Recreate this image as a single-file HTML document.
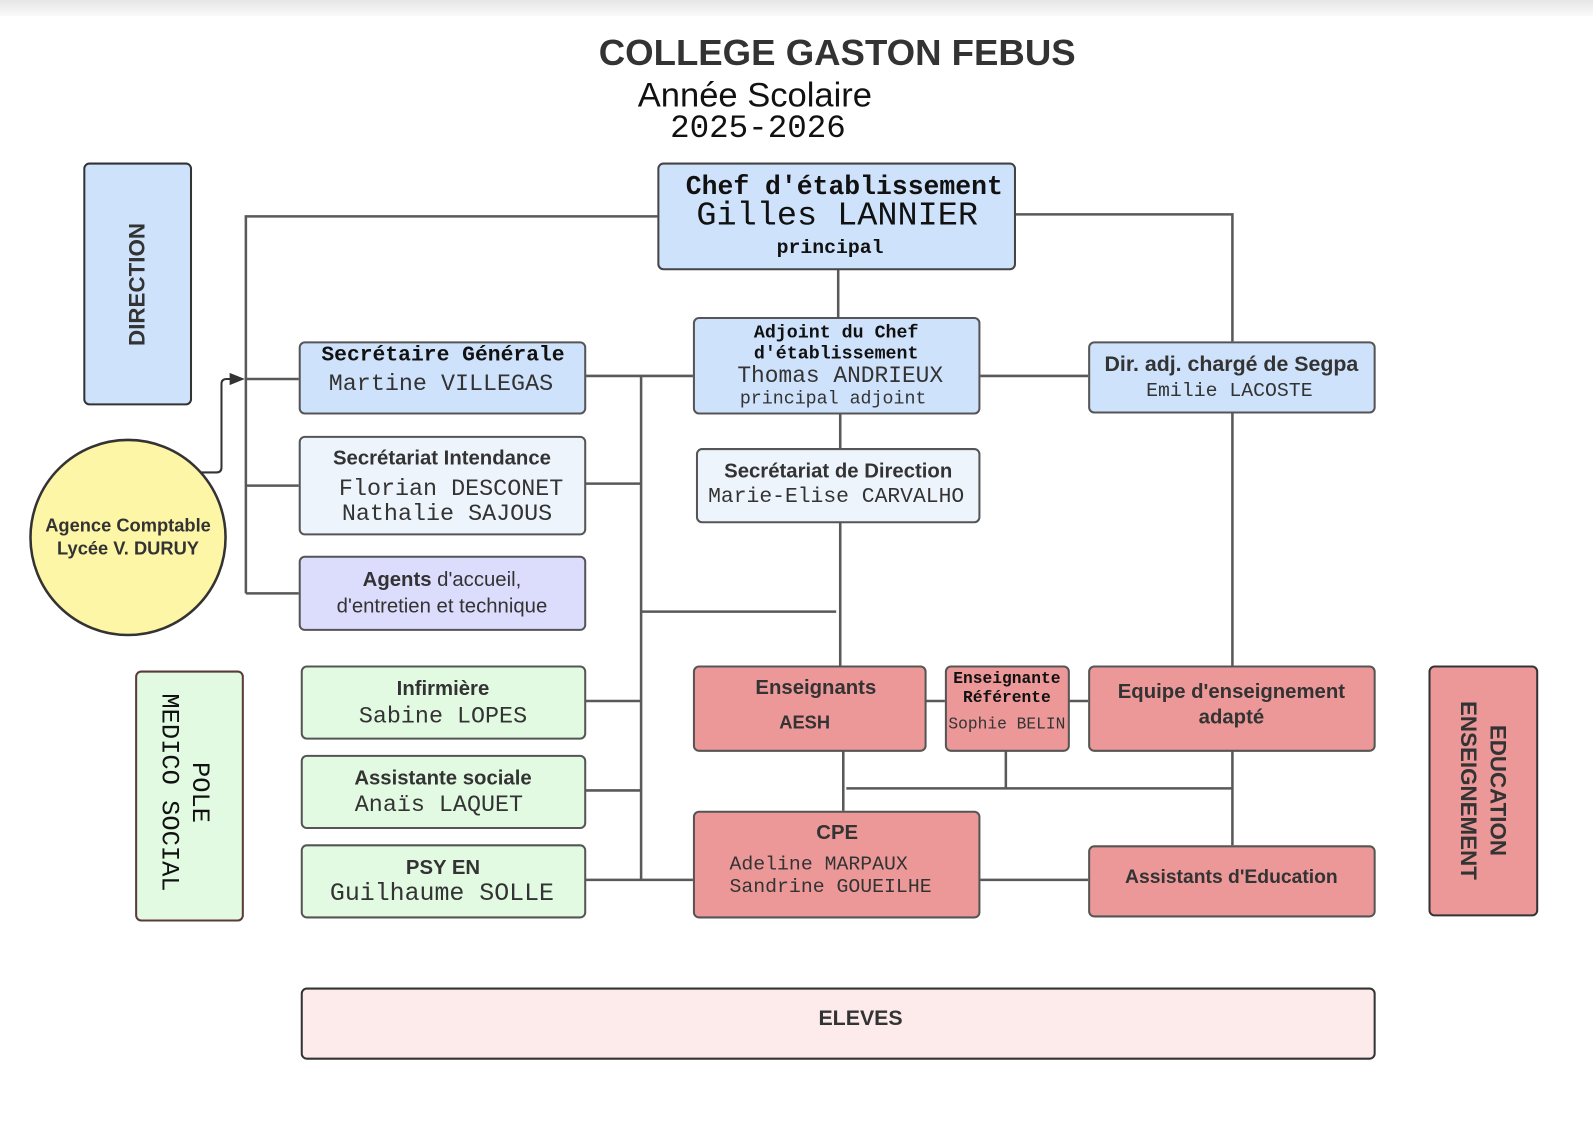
<!DOCTYPE html>
<html><head><meta charset="utf-8"><style>
html,body{margin:0;padding:0;background:#fff;overflow:hidden}
body{width:1593px;height:1125px;position:relative}
#top{position:absolute;left:0;top:0;width:1593px;height:16px;background:linear-gradient(#e6e6e6,#fafafa)}
#w{position:absolute;left:0;top:0;width:1568px;height:1107px;transform:scale(1.016);transform-origin:0 0}
.b{position:absolute;box-sizing:border-box;border:2.5px solid #555;border-radius:6px}
.t{position:absolute;white-space:nowrap;color:#333;transform:translateX(-50%);line-height:1}
.s{font-family:"Liberation Sans",sans-serif}
.m{font-family:"Liberation Mono",monospace}
.bd{font-weight:bold}
.blue{background:#cfe2fb}.lb{background:#eef4fc}.vi{background:#dcdcfc}.gr{background:#e2f9e2}.rd{background:#ec9898}
svg{position:absolute;left:0;top:0}
</style></head><body>
<div id="top"></div>
<div id="w">
<svg width="1568" height="1107" fill="none" stroke="#595959" stroke-width="2.5">
<path d="M647 213H242V584M242 373H294M242 478H294M242 584H294"/>
<path d="M1000 211H1213V336M825 265V312"/>
<path d="M682 370H576M631 370V866M576 476H631M631 602H823M576 690H631M576 778H631M576 866H682"/>
<path d="M965 370H1071M827 407V441M827 514V655M1213 406V655"/>
<path d="M911 690H930M1052 690H1071M830 739V798M833 776H1213M990 739V776M1213 739V832M965 866H1071"/>
<path d="M198 465H213Q218 465 218 460V378Q218 373 223 373H228" stroke="#333" stroke-width="2"/>
<path d="M226 367L241 373L226 379Z" fill="#333" stroke="none"/>
<circle cx="126" cy="529" r="96" fill="#fdf6a6" stroke="#333" stroke-width="2.5"/>
</svg>
<div class="t s bd" style="left:824px;top:34px;font-size:36px">COLLEGE GASTON FEBUS</div>
<div class="t s" style="left:743px;top:77px;font-size:34px;color:#111">Année Scolaire</div>
<div class="t m" style="left:746px;top:111px;font-size:32px;color:#111">2025-2026</div>

<div class="b blue" style="left:82px;top:160px;width:107px;height:239px;border-color:#333"></div>
<div class="t s bd" style="left:135px;top:280px;font-size:22px;transform:translate(-50%,-50%) rotate(-90deg)">DIRECTION</div>

<div class="b blue" style="left:647px;top:160px;width:353px;height:106px;border-color:#444"></div>
<div class="t m bd" style="left:831px;top:171px;font-size:26px;color:#111">Chef d'établissement</div>
<div class="t m" style="left:824px;top:196px;font-size:33px;color:#111">Gilles LANNIER</div>
<div class="t m bd" style="left:817px;top:235px;font-size:19.5px;color:#111">principal</div>

<div class="b blue" style="left:682px;top:312px;width:283px;height:96px"></div>
<div class="t m bd" style="left:823px;top:319px;font-size:18px;color:#111">Adjoint du Chef</div>
<div class="t m bd" style="left:823px;top:340px;font-size:18px;color:#111">d'établissement</div>
<div class="t m" style="left:827px;top:359px;font-size:22.5px">Thomas ANDRIEUX</div>
<div class="t m" style="left:820px;top:384px;font-size:18px">principal adjoint</div>

<div class="b blue" style="left:294px;top:336px;width:283px;height:72px"></div>
<div class="t m bd" style="left:436px;top:340px;font-size:21px;color:#111">Secrétaire Générale</div>
<div class="t m" style="left:434px;top:367px;font-size:23px">Martine VILLEGAS</div>

<div class="b blue" style="left:1071px;top:336px;width:283px;height:71px"></div>
<div class="t s bd" style="left:1212px;top:348px;font-size:21px">Dir. adj. chargé de Segpa</div>
<div class="t m" style="left:1210px;top:376px;font-size:19.5px">Emilie LACOSTE</div>

<div class="b lb" style="left:294px;top:429px;width:283px;height:98px"></div>
<div class="t s bd" style="left:435px;top:441px;font-size:20px">Secrétariat Intendance</div>
<div class="t m" style="left:444px;top:470px;font-size:23px">Florian DESCONET</div>
<div class="t m" style="left:440px;top:495px;font-size:23px">Nathalie SAJOUS</div>

<div class="b lb" style="left:685px;top:441px;width:280px;height:74px"></div>
<div class="t s bd" style="left:825px;top:454px;font-size:20px">Secrétariat de Direction</div>
<div class="t m" style="left:823px;top:479px;font-size:21px">Marie-Elise CARVALHO</div>

<div class="b vi" style="left:294px;top:547px;width:283px;height:74px"></div>
<div class="t s" style="left:435px;top:561px;font-size:20px"><b>Agents</b> d'accueil,</div>
<div class="t s" style="left:435px;top:587px;font-size:20px">d'entretien et technique</div>

<div class="t s bd" style="left:126px;top:508px;font-size:18px">Agence Comptable</div>
<div class="t s bd" style="left:126px;top:531px;font-size:18px">Lycée V. DURUY</div>

<div class="b gr" style="left:133px;top:660px;width:107px;height:247px;border-color:#5a3a3a"></div>
<div class="t m" style="left:181px;top:780px;font-size:25px;line-height:30px;text-align:center;color:#111;transform:translate(-50%,-50%) rotate(90deg)">POLE<br>MEDICO SOCIAL</div>

<div class="b gr" style="left:296px;top:655px;width:281px;height:73px"></div>
<div class="t s bd" style="left:436px;top:668px;font-size:20px">Infirmière</div>
<div class="t m" style="left:436px;top:694px;font-size:23px">Sabine LOPES</div>
<div class="b gr" style="left:296px;top:743px;width:281px;height:73px"></div>
<div class="t s bd" style="left:436px;top:756px;font-size:20px">Assistante sociale</div>
<div class="t m" style="left:432px;top:781px;font-size:23px">Anaïs LAQUET</div>
<div class="b gr" style="left:296px;top:831px;width:281px;height:73px"></div>
<div class="t s bd" style="left:436px;top:844px;font-size:20px">PSY EN</div>
<div class="t m" style="left:435px;top:869px;font-size:24.5px">Guilhaume SOLLE</div>

<div class="b rd" style="left:682px;top:655px;width:230px;height:85px"></div>
<div class="t s bd" style="left:803px;top:667px;font-size:20px">Enseignants</div>
<div class="t s bd" style="left:792px;top:702px;font-size:18px">AESH</div>
<div class="b rd" style="left:930px;top:655px;width:123px;height:85px"></div>
<div class="t m bd" style="left:991px;top:660px;font-size:16px;color:#111">Enseignante</div>
<div class="t m bd" style="left:991px;top:679px;font-size:16px;color:#111">Référente</div>
<div class="t m" style="left:991px;top:705px;font-size:16px">Sophie BELIN</div>
<div class="b rd" style="left:1071px;top:655px;width:283px;height:85px"></div>
<div class="t s bd" style="left:1212px;top:671px;font-size:20px">Equipe d'enseignement</div>
<div class="t s bd" style="left:1212px;top:696px;font-size:20px">adapté</div>

<div class="b rd" style="left:682px;top:798px;width:283px;height:106px"></div>
<div class="t s bd" style="left:824px;top:810px;font-size:20px">CPE</div>
<div class="t m" style="left:718px;top:842px;font-size:19.5px;transform:none">Adeline MARPAUX</div>
<div class="t m" style="left:718px;top:864px;font-size:19.5px;transform:none">Sandrine GOUEILHE</div>
<div class="b rd" style="left:1071px;top:832px;width:283px;height:71px"></div>
<div class="t s bd" style="left:1212px;top:854px;font-size:19px">Assistants d'Education</div>

<div class="b rd" style="left:1406px;top:655px;width:108px;height:247px;border-color:#333"></div>
<div class="t s bd" style="left:1460px;top:778px;font-size:22px;line-height:29px;text-align:center;transform:translate(-50%,-50%) rotate(90deg)">EDUCATION<br>ENSEIGNEMENT</div>

<div class="b" style="left:296px;top:972px;width:1058px;height:71px;background:#fdeaea;border-color:#333"></div>
<div class="t s bd" style="left:847px;top:992px;font-size:21px">ELEVES</div>
</div>
</body></html>
